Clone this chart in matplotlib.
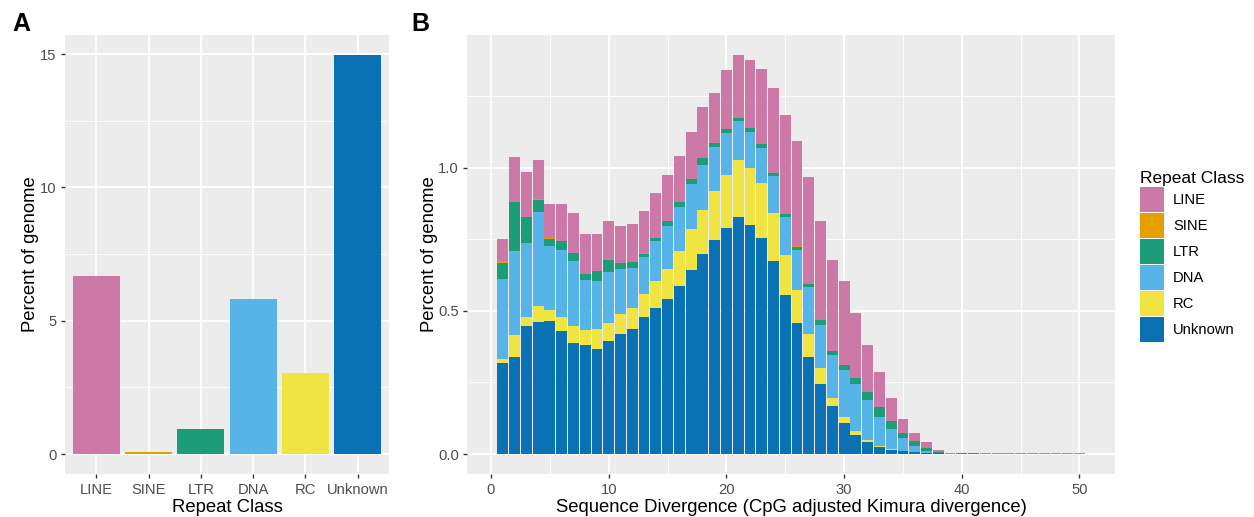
import matplotlib
matplotlib.use("Agg")
import matplotlib.pyplot as plt
import numpy as np

plt.rcParams['font.family'] = ['Liberation Sans', 'DejaVu Sans']

# Panel A: total percent of genome per repeat class
classes = ["LINE", "SINE", "LTR", "DNA", "RC", "Unknown"]
class_pct = [6.66, 0.06, 0.95, 5.82, 3.05, 14.97]

# Panel B: repeat landscape, 1% divergence bins
divergence = list(range(1, 51))
unknown = [0.319, 0.340, 0.448, 0.462, 0.466, 0.431, 0.386, 0.379, 0.368, 0.396,
           0.420, 0.438, 0.480, 0.511, 0.542, 0.588, 0.643, 0.699, 0.748, 0.790,
           0.828, 0.800, 0.755, 0.675, 0.556, 0.459, 0.337, 0.246, 0.166, 0.107,
           0.065, 0.041, 0.023, 0.013, 0.009, 0.006, 0.003, 0.002, 0.0, 0.0,
           0.0, 0.0, 0.0, 0.0, 0.0, 0.0, 0.0, 0.0, 0.0, 0.0]
rc = [0.011, 0.077, 0.032, 0.053, 0.038, 0.049, 0.062, 0.055, 0.070, 0.063,
      0.070, 0.073, 0.080, 0.094, 0.105, 0.122, 0.143, 0.154, 0.171, 0.184,
      0.199, 0.199, 0.192, 0.167, 0.140, 0.115, 0.083, 0.056, 0.031, 0.024,
      0.014, 0.007, 0.004, 0.003, 0.0, 0.0, 0.0, 0.0, 0.0, 0.0,
      0.0, 0.0, 0.0, 0.0, 0.0, 0.0, 0.0, 0.0, 0.0, 0.0]
dna = [0.282, 0.293, 0.257, 0.331, 0.223, 0.233, 0.227, 0.175, 0.167, 0.177,
       0.157, 0.139, 0.129, 0.139, 0.150, 0.153, 0.157, 0.156, 0.153, 0.147,
       0.136, 0.125, 0.122, 0.129, 0.132, 0.139, 0.164, 0.150, 0.147, 0.164,
       0.167, 0.139, 0.101, 0.073, 0.046, 0.021, 0.007, 0.002, 0.0, 0.0,
       0.0, 0.0, 0.0, 0.0, 0.0, 0.0, 0.0, 0.0, 0.0, 0.0]
ltr = [0.056, 0.170, 0.091, 0.041, 0.024, 0.031, 0.028, 0.020, 0.035, 0.042,
       0.021, 0.021, 0.010, 0.011, 0.017, 0.017, 0.017, 0.025, 0.014, 0.014,
       0.010, 0.014, 0.013, 0.010, 0.011, 0.011, 0.011, 0.017, 0.017, 0.017,
       0.018, 0.028, 0.035, 0.028, 0.020, 0.017, 0.011, 0.003, 0.001, 0.002,
       0.002, 0.0, 0.001, 0.001, 0.001, 0.001, 0.001, 0.001, 0.001, 0.001]
sine = [0.007, 0.0, 0.0, 0.004, 0.004, 0.0, 0.0, 0.0, 0.0, 0.0,
        0.0, 0.0, 0.004, 0.0, 0.0, 0.0, 0.0, 0.0, 0.0, 0.0,
        0.0, 0.0, 0.0, 0.0, 0.0, 0.003, 0.0, 0.0, 0.0, 0.0,
        0.0, 0.0, 0.0, 0.0, 0.0, 0.0, 0.0, 0.0, 0.0, 0.0,
        0.0, 0.0, 0.0, 0.0, 0.0, 0.0, 0.0, 0.0, 0.0, 0.0]
line = [0.076, 0.157, 0.157, 0.136, 0.118, 0.129, 0.139, 0.140, 0.129, 0.136,
        0.129, 0.133, 0.146, 0.157, 0.160, 0.161, 0.164, 0.177, 0.174, 0.205,
        0.220, 0.237, 0.262, 0.297, 0.344, 0.366, 0.372, 0.345, 0.317, 0.293,
        0.230, 0.167, 0.125, 0.080, 0.049, 0.028, 0.021, 0.007, 0.004, 0.0,
        0.0, 0.002, 0.001, 0.001, 0.001, 0.001, 0.001, 0.001, 0.001, 0.001]

colors = {"LINE": "#CC79A7", "SINE": "#E69F00", "LTR": "#1B9E77",
          "DNA": "#56B4E9", "RC": "#F0E442", "Unknown": "#0A72B4"}

BG = "#EBECEB"
TICK_C = "#333333"
LAB_C = "#4D4D4D"

fig = plt.figure(figsize=(12.54, 5.17), dpi=100)
axA = fig.add_axes([0.0518, 0.0832, 0.2584, 0.8491])
axB = fig.add_axes([0.3728, 0.0832, 0.5162, 0.8491])


def gg_style(ax):
    ax.set_facecolor(BG)
    for s in ax.spines.values():
        s.set_visible(False)
    ax.grid(which="major", color="white", linewidth=1.3)
    ax.grid(which="minor", color="white", linewidth=0.65)
    ax.set_axisbelow(True)
    ax.tick_params(which="major", length=3.2, width=1.0, color=TICK_C,
                   labelcolor=LAB_C, labelsize=10.6, pad=3)
    ax.tick_params(which="minor", length=0)


# Panel A
xA = np.arange(len(classes))
axA.bar(xA, class_pct, width=0.9, color=[colors[c] for c in classes])
axA.set_xlim(-0.6, len(classes) - 0.4)
axA.set_ylim(-0.749, 15.72)
axA.set_xticks(xA)
axA.set_xticklabels(classes)
axA.set_yticks([0, 5, 10, 15])
axA.set_yticks([2.5, 7.5, 12.5], minor=True)
axA.set_xlabel("Repeat Class", fontsize=13.3, labelpad=1.5)
axA.set_ylabel("Percent of genome", fontsize=13.3, labelpad=0.5)
gg_style(axA)
axA.xaxis.grid(which="minor", visible=False)

# Panel B: stacked bars, Unknown at the bottom
stack = [("Unknown", unknown), ("RC", rc), ("DNA", dna),
         ("LTR", ltr), ("SINE", sine), ("LINE", line)]
bottom = np.zeros(len(divergence))
handles = {}
for name, vals in stack:
    vals = np.array(vals)
    h = axB.bar(divergence, vals, width=0.92, bottom=bottom,
                color=colors[name], linewidth=0, label=name)
    handles[name] = h
    bottom += vals

top = bottom.max()
axB.set_xlim(-2.0, 53.0)
axB.set_ylim(-0.05 * top, top * 1.05)
axB.set_xticks([0, 10, 20, 30, 40, 50])
axB.set_xticks([5, 15, 25, 35, 45], minor=True)
axB.set_yticks([0.0, 0.5, 1.0])
axB.set_yticklabels(["0.0", "0.5", "1.0"])
axB.set_yticks([0.25, 0.75, 1.25], minor=True)
axB.set_xlabel("Sequence Divergence (CpG adjusted Kimura divergence)",
               fontsize=13.3, labelpad=1.5)
axB.set_ylabel("Percent of genome", fontsize=13.3, labelpad=0)
gg_style(axB)

order = ["LINE", "SINE", "LTR", "DNA", "RC", "Unknown"]
leg = fig.legend([handles[n] for n in order], order, title="Repeat Class",
                 loc="upper left", bbox_to_anchor=(1140 / 1254, 1 - 171 / 517),
                 frameon=False, fontsize=10.6, title_fontsize=12.5,
                 handlelength=1.65, handleheight=2.18, labelspacing=0.1,
                 handletextpad=0.6, borderpad=0, borderaxespad=0)
leg._legend_box.align = "left"

fig.text(12 / 1254, 1 - 24 / 517, "A", fontsize=18, fontweight="bold", va="center")
fig.text(411 / 1254, 1 - 24 / 517, "B", fontsize=18, fontweight="bold", va="center")

fig.savefig("out.png", dpi=100)
